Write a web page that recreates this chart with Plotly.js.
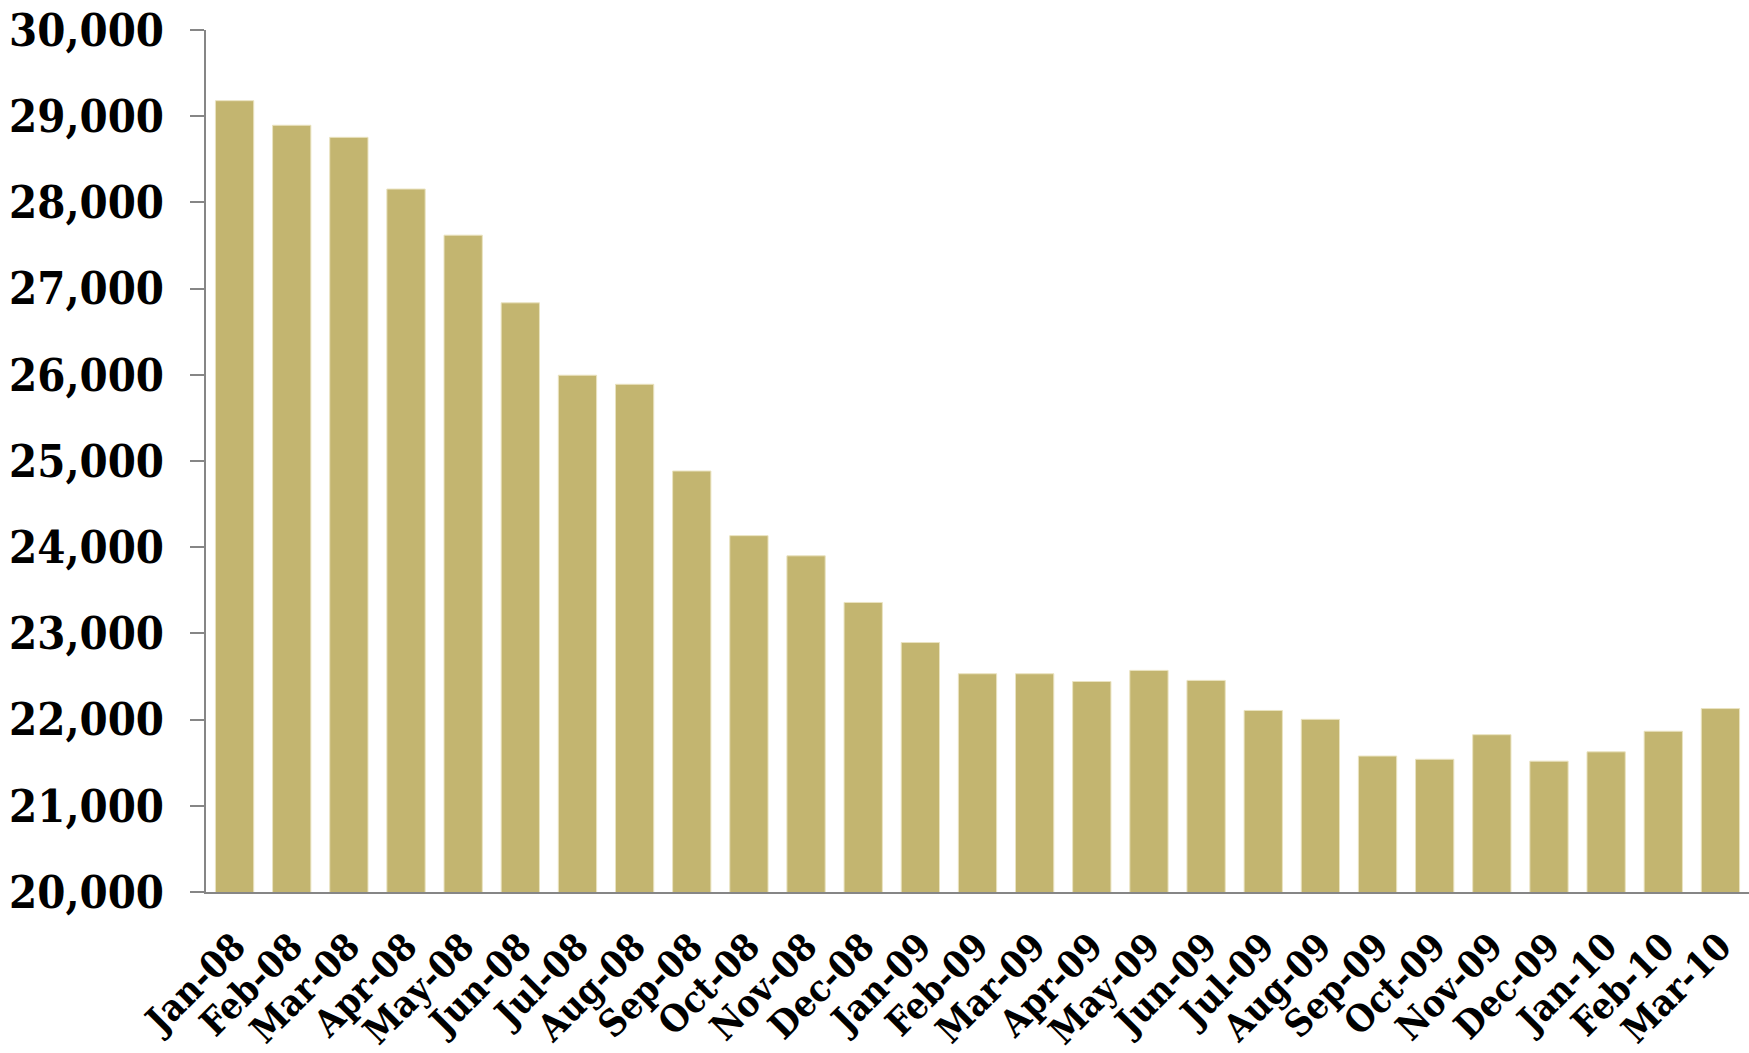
<!DOCTYPE html>
<html>
<head>
<meta charset="utf-8">
<script src="https://cdn.plot.ly/plotly-3.0.1.min.js"></script>
<style>html,body{margin:0;padding:0;background:#fff;}#chart{width:1749px;height:1053px;}</style>
</head>
<body>
<div id="chart"></div>
<script>
const months = ["Jan-08","Feb-08","Mar-08","Apr-08","May-08","Jun-08","Jul-08","Aug-08","Sep-08","Oct-08","Nov-08","Dec-08",
  "Jan-09","Feb-09","Mar-09","Apr-09","May-09","Jun-09","Jul-09","Aug-09","Sep-09","Oct-09","Nov-09","Dec-09",
  "Jan-10","Feb-10","Mar-10"];
const values = [29180,28895,28755,28155,27620,26835,25995,25890,24884,24134,23900,23359,
  22894,22532,22532,22442,22571,22455,22106,22003,21577,21540,21825,21518,
  21626,21865,22128];
const yTicks = [20000,21000,22000,23000,24000,25000,26000,27000,28000,29000,30000];

const fam = "'DejaVu Serif Condensed', 'DejaVu Serif', serif";
const yFont = {family: fam, size: 45, color: "#000", weight: 700};
const xFont = {family: fam, size: 37, color: "#000", weight: 700};

Plotly.newPlot("chart", [{
  type: "bar",
  x: months,
  y: values,
  marker: {color: "#C3B570", line: {color: "#EAE3C0", width: 1}},
  hoverinfo: "x+y"
}], {
  width: 1749, height: 1053,
  margin: {l: 206, r: 0, t: 30, b: 161},
  paper_bgcolor: "#fff", plot_bgcolor: "#fff",
  bargap: 0.33,
  showlegend: false,
  font: yFont,
  xaxis: {
    type: "category",
    tickangle: -45,
    showline: true, linecolor: "#868686", linewidth: 2,
    ticks: "", showgrid: false,
    tickfont: xFont,
    ticklabelstandoff: 16
  },
  yaxis: {
    range: [20000, 30000],
    tickvals: yTicks,
    tickformat: ",",
    showline: true, linecolor: "#868686", linewidth: 2,
    ticks: "outside", ticklen: 14, tickcolor: "#868686", tickwidth: 2,
    showgrid: false, zeroline: false,
    tickfont: yFont,
    ticklabelstandoff: 17
  }
}, {displayModeBar: false, staticPlot: true});
</script>
</body>
</html>
